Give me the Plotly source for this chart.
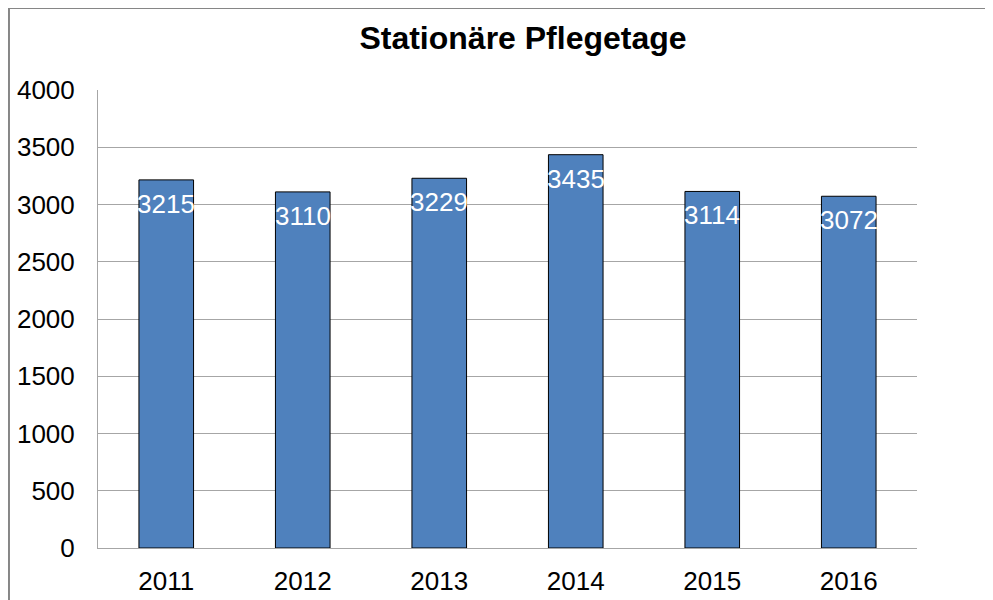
import plotly.graph_objects as go

years = ["2011", "2012", "2013", "2014", "2015", "2016"]
values = [3215, 3110, 3229, 3435, 3114, 3072]
y_ticks = [0, 500, 1000, 1500, 2000, 2500, 3000, 3500, 4000]

FONT = "Liberation Sans, Arial, sans-serif"

W, H = 977, 592  # page body has an 8px margin

fig = go.Figure()
fig.add_trace(go.Bar(
    x=years, y=values,
    marker=dict(color="#4f81bd", line=dict(color="#000000", width=1)),
    width=0.4,
    hoverinfo="x+y",
))

# data labels (category index used as x on the category axis)
for i, v in enumerate(values):
    fig.add_annotation(
        x=i, y=v, text=str(v), showarrow=False,
        yanchor="middle", yshift=-24,
        font=dict(family=FONT, size=26, color="white"),
    )

# outer chart frame
fig.add_shape(type="line", xref="paper", yref="paper",
              x0=-0.1087, x1=1.2, y0=1.179, y1=1.179,
              line=dict(color="#868686", width=2))
fig.add_shape(type="line", xref="paper", yref="paper",
              x0=-0.1087, x1=-0.1087, y0=1.179, y1=-0.2,
              line=dict(color="#868686", width=2))

fig.update_layout(
    template="none",
    width=W, height=H,
    margin=dict(l=90, r=68, t=82, b=52, autoexpand=False),
    paper_bgcolor="white", plot_bgcolor="white",
    showlegend=False,
    title=dict(text="<b>Stationäre Pflegetage</b>", x=515 / W, xref="container",
               xanchor="center", y=1 - 30 / H, yref="container", yanchor="middle",
               font=dict(family=FONT, size=32, color="black")),
    font=dict(family=FONT, size=26, color="black"),
    bargap=0.6,
)
fig.update_xaxes(type="category", range=[-0.5, len(years) - 0.5], automargin=False,
                 showline=True, linecolor="#a6a6a6", linewidth=1,
                 showgrid=False, ticks="", ticklabelstandoff=10,
                 tickfont=dict(size=26, color="black"))
fig.update_yaxes(range=[0, 4000], tickvals=y_ticks, automargin=False, showline=True,
                 linecolor="#a6a6a6", linewidth=1, showgrid=True,
                 gridcolor="#a6a6a6", gridwidth=1, ticks="", ticklen=0,
                 ticklabelstandoff=17,
                 zeroline=False, tickfont=dict(size=26, color="black"))

fig.write_html("out.html")
